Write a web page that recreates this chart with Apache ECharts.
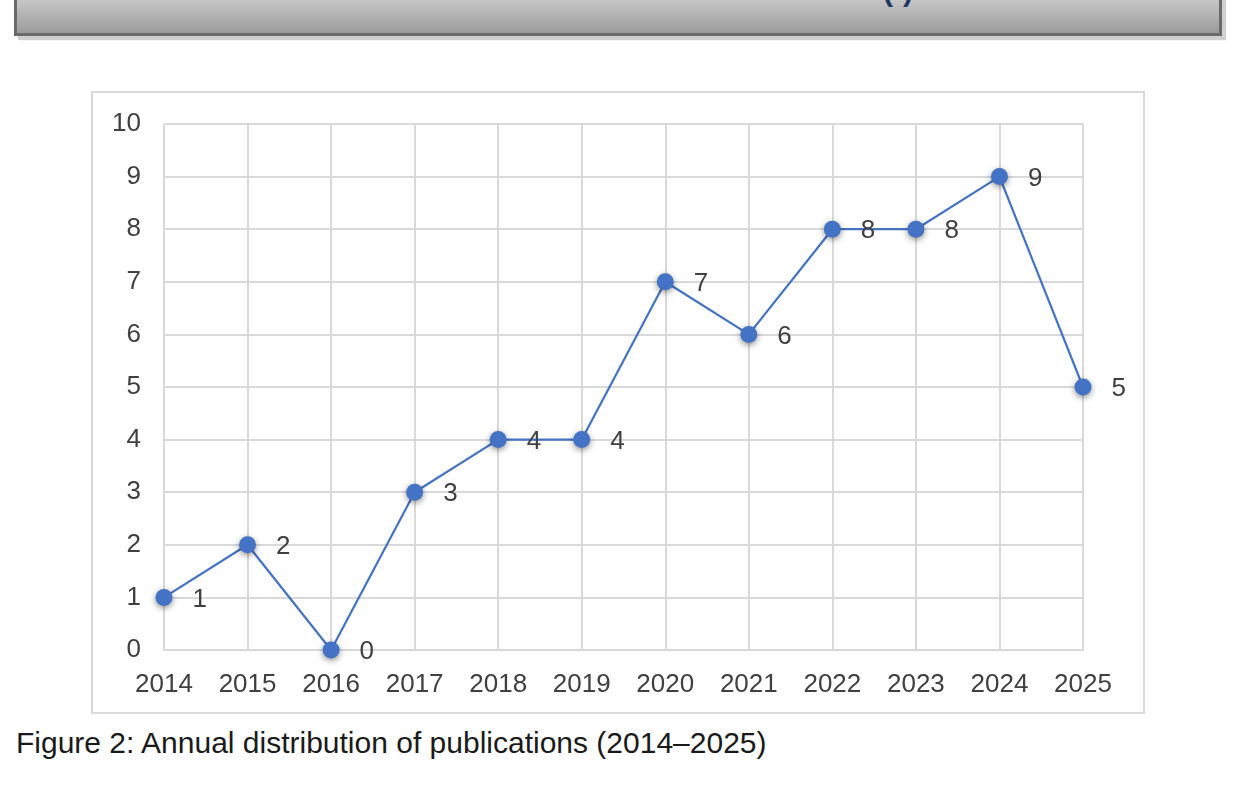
<!DOCTYPE html>
<html>
<head>
<meta charset="utf-8">
<script src="https://cdn.jsdelivr.net/npm/echarts@6/dist/echarts.min.js"></script>
<style>
    body{ margin:0; width:1236px; height:804px; background:#fff; position:relative; overflow:hidden; font-family:"Liberation Sans", Arial, sans-serif; }
    #header-bar{ position:absolute; left:14px; top:-10px; width:1202px; height:43px; background:linear-gradient(#d2d2d2,#9c9c9c); border:3px solid #6a6a6a; border-top:none; box-shadow:4px 4px 1px #cfcfcf; overflow:hidden; }
    #header-bar span{ position:absolute; left:866px; top:-16px; font-size:30px; color:#1f3864; font-weight:bold; }
    #chart-box{ position:absolute; left:91px; top:91px; width:1050px; height:619px; border:2px solid #d9d9d9; }
    #caption{ position:absolute; left:16px; top:726px; font-size:30px; color:#1a1a1a; }
</style>
</head>
<body>
<div id="header-bar"><span>(·)</span></div>
<div id="chart-box"></div>
<div id="caption">Figure 2: Annual distribution of publications (2014–2025)</div>
<script>
// 年份
var years = ['2014','2015','2016','2017','2018','2019','2020','2021','2022','2023','2024','2025'];
// 每年发表数量
var counts = [1, 2, 0, 3, 4, 4, 7, 6, 8, 8, 9, 5];

window.onload = function(){
    var myChart = echarts.init(document.getElementById('chart-box'));
    var textColor = '#404040';
    var option = {
        animation: false,
        grid: { left: 71, right: 60, top: 31, bottom: 62 },
        xAxis: {
            type: 'category',
            data: years,
            boundaryGap: false,
            axisLine: { lineStyle: { color: '#d9d9d9', width: 2 } },
            axisTick: { show: false },
            axisLabel: { color: textColor, fontSize: 26, margin: 22, fontFamily: 'Liberation Sans' },
            splitLine: { show: true, lineStyle: { color: '#d9d9d9', width: 2 } }
        },
        yAxis: {
            type: 'value',
            min: 0,
            max: 10,
            interval: 1,
            axisLine: { show: false },
            axisTick: { show: false },
            axisLabel: { color: textColor, fontSize: 26, margin: 23, fontFamily: 'Liberation Sans' },
            splitLine: { lineStyle: { color: '#d9d9d9', width: 2 } }
        },
        series: [{
            type: 'line',
            data: counts,
            symbol: 'circle',
            symbolSize: 17,
            lineStyle: { color: '#4472c4', width: 2.2 },
            itemStyle: { color: '#4472c4', shadowBlur: 6, shadowColor: 'rgba(0,0,0,0.45)', shadowOffsetY: 2 },
            label: {
                show: true,
                position: 'right',
                distance: 20,
                offset: [0, 2],
                color: textColor,
                fontSize: 26,
                fontFamily: 'Liberation Sans'
            }
        }]
    };
    myChart.setOption(option);
}
</script>
</body>
</html>
